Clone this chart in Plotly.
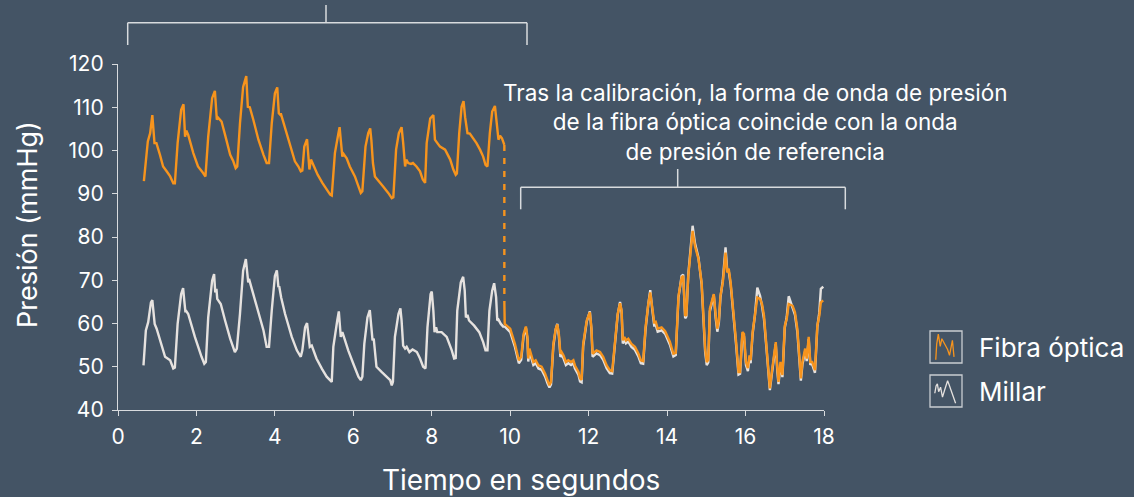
import plotly.graph_objects as go

# ---------------- data ----------------
t_millar_pre = [0.65,0.71,0.77,0.84,0.875,0.91,0.935,0.985,1.11,1.20,
    1.33,1.41,1.45,1.52,1.61,1.66,1.69,1.72,1.73,1.79,
    1.96,2.13,2.20,2.24,2.30,2.40,2.45,2.48,2.51,2.53,
    2.62,2.73,2.86,2.98,3.03,3.11,3.19,3.26,3.29,3.32,
    3.34,3.41,3.58,3.71,3.79,3.85,3.92,4.00,4.05,4.09,
    4.11,4.16,4.26,4.43,4.56,4.66,4.70,4.77,4.82,4.85,
    4.89,4.94,5.06,5.20,5.32,5.45,5.49,5.59,5.63,5.68,
    5.72,5.76,5.87,6.00,6.13,6.19,6.23,6.28,6.36,6.42,
    6.46,6.49,6.52,6.59,6.72,6.85,6.94,6.98,7.01,7.06,
    7.15,7.20,7.23,7.27,7.32,7.36,7.43,7.51,7.62,7.70,
    7.78,7.84,7.89,7.97,8.00,8.04,8.07,8.11,8.14,8.25,
    8.38,8.51,8.57,8.61,8.65,8.74,8.80,8.84,8.87,8.91,
    8.95,9.08,9.21,9.31,9.37,9.42,9.47,9.54,9.59,9.64,
    9.67,9.70,9.76,9.84]
millar_pre = [50.3,58.4,60.3,64.9,65.4,61.8,59.9,58.8,55.3,52.3,
    51.5,49.6,49.8,59.9,66.8,68.2,65.3,62.6,63.0,62.2,
    56.9,52.3,50.7,51.1,61.4,69.9,71.4,67.2,68.0,65.7,
    64.5,60.7,56.5,53.4,54.2,62.2,72.2,74.9,72.2,69.5,
    70.3,68.0,63.0,58.4,54.6,54.6,63.0,71.0,72.3,68.4,
    68.6,66.0,62.2,56.9,53.8,52.3,53.8,59.1,60.1,56.9,
    54.6,54.9,51.9,49.5,47.7,46.5,54.6,60.7,62.8,56.9,
    58.0,56.9,53.8,50.7,47.7,46.9,47.7,55.3,61.4,63.1,
    59.9,56.1,56.5,50.0,48.8,47.8,46.9,45.7,46.5,56.9,
    62.2,63.5,60.7,54.9,54.2,54.6,53.4,54.0,53.4,51.9,
    50.0,49.6,59.1,66.8,67.4,63.0,58.0,59.1,58.0,58.0,
    56.9,53.8,51.9,52.0,63.0,69.5,70.8,67.6,61.4,62.0,
    60.7,59.5,58.0,55.7,53.8,53.8,63.0,67.6,69.3,66.1,
    60.7,60.9,59.9,59.1]

t_fibra_pre = [0.66,0.76,0.82,0.875,0.93,0.98,1.07,1.15,1.24,1.33,
    1.41,1.45,1.52,1.61,1.67,1.71,1.74,1.79,1.92,2.04,
    2.17,2.23,2.30,2.40,2.47,2.52,2.55,2.64,2.73,2.86,
    2.94,3.00,3.04,3.11,3.19,3.27,3.31,3.36,3.45,3.58,
    3.71,3.79,3.85,3.92,4.00,4.06,4.10,4.13,4.15,4.30,
    4.43,4.51,4.60,4.66,4.70,4.75,4.82,4.85,4.88,4.92,
    5.00,5.09,5.21,5.32,5.41,5.45,5.53,5.62,5.65,5.68,
    5.72,5.75,5.83,5.91,6.04,6.13,6.19,6.23,6.31,6.38,
    6.43,6.46,6.50,6.55,6.64,6.76,6.89,6.98,7.02,7.09,
    7.16,7.23,7.27,7.32,7.35,7.40,7.47,7.52,7.61,7.70,
    7.77,7.83,7.87,7.96,8.04,8.08,8.12,8.21,8.34,8.47,
    8.55,8.61,8.64,8.70,8.76,8.81,8.85,8.91,8.97,9.06,
    9.14,9.23,9.31,9.37,9.42,9.48,9.54,9.61,9.66,9.70,
    9.74,9.79,9.85]
fibra_pre = [92.9,102.1,104.0,108.2,101.7,101.7,99.0,96.3,95.2,94.0,
    92.4,92.4,101.7,109.4,110.7,103.2,104.6,103.6,99.4,96.3,
    94.8,94.0,103.2,112.1,113.8,107.1,107.6,106.7,103.6,99.0,
    97.5,95.9,96.3,106.3,114.7,117.2,110.1,110.0,107.1,102.5,
    99.0,97.1,97.1,106.3,113.2,114.6,108.6,108.3,108.6,104.0,
    100.2,97.5,96.3,95.2,95.4,100.9,102.6,98.8,95.6,97.9,
    96.3,94.4,92.5,91.0,89.8,89.6,99.4,104.0,105.4,102.4,
    98.6,99.2,98.2,96.3,94.0,91.7,90.2,90.6,100.9,104.0,
    105.1,102.4,97.1,94.0,92.9,91.7,90.2,89.0,89.2,100.2,
    104.0,105.4,101.8,96.3,97.9,97.1,96.9,97.1,96.3,95.2,
    93.3,92.5,101.7,107.4,108.2,102.5,102.0,100.9,100.2,97.9,
    95.6,94.4,94.7,104.0,110.1,111.4,107.7,104.0,103.9,102.8,
    101.7,100.2,98.6,96.7,96.3,104.0,109.0,110.3,106.2,102.5,
    103.4,102.8,101.3]

t_post = [9.85,9.86,10.00,10.12,10.22,10.28,10.34,10.40,10.44,10.46,
    10.49,10.55,10.59,10.65,10.72,10.80,10.89,10.95,11.00,11.04,
    11.10,11.16,11.20,11.24,11.28,11.31,11.36,11.42,11.48,11.55,
    11.61,11.65,11.74,11.78,11.82,11.86,11.95,12.03,12.07,12.10,
    12.14,12.20,12.29,12.37,12.46,12.54,12.60,12.67,12.74,12.80,
    12.84,12.87,12.91,12.95,13.01,13.09,13.18,13.27,13.33,13.39,
    13.45,13.52,13.57,13.62,13.67,13.71,13.76,13.86,13.95,14.07,
    14.16,14.22,14.29,14.37,14.41,14.46,14.49,14.54,14.60,14.65,
    14.71,14.80,14.88,14.92,14.97,15.01,15.05,15.09,15.15,15.19,
    15.24,15.28,15.32,15.36,15.42,15.45,15.49,15.53,15.57,15.62,
    15.69,15.76,15.82,15.86,15.92,15.96,16.01,16.06,16.10,16.13,
    16.18,16.24,16.30,16.37,16.42,16.47,16.54,16.59,16.62,16.67,
    16.73,16.77,16.81,16.84,16.89,16.94,17.00,17.05,17.10,17.15,
    17.20,17.26,17.32,17.37,17.41,17.45,17.52,17.56,17.61,17.65,
    17.70,17.77,17.81,17.83,17.88,17.92,17.98]
fibra_post = [65.0,59.9,58.8,55.3,51.5,52.3,57.6,59.3,56.9,51.9,
    54.2,52.6,51.1,51.5,50.3,50.0,48.4,46.9,45.7,46.5,
    55.3,58.8,59.8,57.6,53.0,53.4,52.6,51.1,51.5,51.1,
    51.5,50.3,48.8,47.3,47.0,55.3,60.7,62.6,59.1,53.0,
    53.4,53.8,53.4,52.3,50.3,49.2,49.0,56.1,62.2,64.7,
    63.0,56.1,56.9,56.1,56.5,55.3,54.6,53.0,51.5,51.3,
    59.1,64.5,67.2,63.8,60.3,60.4,58.8,59.1,58.2,55.8,
    53.0,53.2,66.4,70.6,71.0,61.8,62.0,71.0,76.4,81.4,
    77.9,74.9,69.5,61.8,54.2,51.1,51.6,63.4,65.7,66.8,
    61.8,58.8,60.7,66.4,69.5,73.3,76.4,71.8,72.7,69.5,
    63.4,55.7,48.8,48.8,58.0,57.6,51.1,49.7,52.6,51.5,
    58.0,61.8,66.0,65.7,64.5,61.8,54.2,47.3,45.0,48.8,
    52.6,55.7,49.7,46.5,51.1,48.1,59.5,61.1,64.5,64.2,
    64.1,62.6,58.8,52.6,47.3,51.1,54.2,51.9,56.9,51.1,
    51.1,49.2,55.7,59.5,61.8,64.9,65.3]
millar_post = [59.5,59.3,58.0,54.6,50.8,51.6,57.0,59.0,56.3,51.2,
    53.5,51.9,50.4,50.8,49.6,49.3,47.7,46.2,45.2,45.9,
    54.8,58.6,59.9,57.1,52.3,52.7,51.9,50.4,50.8,50.4,
    50.8,49.6,48.1,46.6,46.4,54.8,60.4,62.8,58.6,52.3,
    52.7,53.1,52.7,51.6,49.6,48.5,48.4,55.5,62.0,65.0,
    62.5,55.4,56.2,55.4,55.8,54.6,53.9,52.3,50.8,50.7,
    58.6,64.4,67.7,63.3,59.6,59.7,58.1,58.4,57.6,55.1,
    52.4,52.7,66.0,71.0,71.3,61.2,61.6,71.3,77.5,82.6,
    78.6,75.2,69.0,61.0,53.4,50.4,51.0,62.8,65.4,66.6,
    61.1,58.1,60.2,66.0,70.0,74.0,77.6,72.5,72.2,69.0,
    62.6,55.0,48.2,48.4,57.6,57.0,50.4,49.0,52.0,50.8,
    57.6,62.0,68.3,66.4,64.0,61.0,53.5,46.6,44.6,48.3,
    52.0,55.2,49.0,46.0,50.5,47.6,59.0,61.5,66.3,64.8,
    63.6,62.0,58.1,52.0,46.8,50.5,53.6,51.3,56.4,50.6,
    50.5,48.6,55.2,59.2,62.5,68.0,68.5]

# calibration jump (dashed)
t_calib = [9.85, 9.85]
p_calib = [101.3, 65.0]

# legend icon mini-waveforms
icon_fibra_x = [0.18,0.21,0.26,0.32,0.37,0.45,0.55,0.61,0.67,0.70,0.75]
icon_fibra_y = [0.10,0.60,0.90,0.52,0.76,0.60,0.42,0.24,0.66,0.71,0.19]
icon_millar_x = [0.15,0.19,0.23,0.27,0.33,0.39,0.46,0.55,0.60,0.65,0.74,0.80]
icon_millar_y = [0.43,0.66,0.72,0.48,0.62,0.31,0.54,0.82,0.69,0.54,0.23,0.12]

x_ticks = [0, 2, 4, 6, 8, 10, 12, 14, 16, 18]
y_ticks = [40, 50, 60, 70, 80, 90, 100, 110, 120]

labels = {
    "fibra": "Fibra óptica",
    "millar": "Millar",
    "note": "Tras la calibración, la forma de onda de presión<br>de la fibra óptica coincide con la onda<br>de presión de referencia",
    "xtitle": "Tiempo en segundos",
    "ytitle": "Presión (mmHg)",
}

# ---------------- styling ----------------
BG = "#445465"
ORANGE = "#f7941d"
WHITE_LINE = "#e6e2df"
AXIS = "#d8dbde"
TEXT = "#ffffff"
FONT = "Inter, Roboto, Arial, sans-serif"

W, H = 1134, 497
ML, MR, MT, MB = 118, 10, 64, 87
PW = W - ML - MR
PH = H - MT - MB


def px_x(px):
    return (px - ML) / PW


def px_y(py):
    return (H - MB - py) / PH


fig = go.Figure()

fig.add_trace(go.Scatter(x=t_millar_pre, y=millar_pre, mode="lines",
                         line=dict(color=WHITE_LINE, width=2.4), hoverinfo="skip"))
fig.add_trace(go.Scatter(x=t_post, y=millar_post, mode="lines",
                         line=dict(color=WHITE_LINE, width=2.4), hoverinfo="skip"))
fig.add_trace(go.Scatter(x=t_fibra_pre, y=fibra_pre, mode="lines",
                         line=dict(color=ORANGE, width=2.4), hoverinfo="skip"))
fig.add_trace(go.Scatter(x=t_calib, y=p_calib, mode="lines",
                         line=dict(color=ORANGE, width=2.4, dash="6px,7px"), hoverinfo="skip"))
fig.add_trace(go.Scatter(x=t_post, y=fibra_post, mode="lines",
                         line=dict(color=ORANGE, width=2.4), hoverinfo="skip"))

# legend icons in inset axes
fig.add_trace(go.Scatter(x=icon_fibra_x, y=icon_fibra_y, mode="lines", xaxis="x2", yaxis="y2",
                         line=dict(color=ORANGE, width=1.3), hoverinfo="skip"))
fig.add_trace(go.Scatter(x=icon_millar_x, y=icon_millar_y, mode="lines", xaxis="x3", yaxis="y3",
                         line=dict(color=WHITE_LINE, width=1.3), hoverinfo="skip"))

icon_x0, icon_x1 = 930, 962
hidden = dict(visible=False, range=[0, 1], fixedrange=True)

fig.update_layout(
    width=W, height=H, autosize=False,
    margin=dict(l=ML, r=MR, t=MT, b=MB, autoexpand=False),
    paper_bgcolor=BG, plot_bgcolor=BG,
    showlegend=False,
    font=dict(family=FONT, color=TEXT),
    xaxis=dict(domain=[0, px_x(824)], range=[0, 18], tickvals=x_ticks,
               showline=True, linecolor=AXIS, linewidth=1.3,
               ticks="outside", ticklen=5, tickcolor=AXIS, tickwidth=1.3,
               showgrid=False, zeroline=False, automargin=False,
               tickfont=dict(size=21, color=TEXT), ticklabelstandoff=3),
    yaxis=dict(domain=[0, 1], range=[40, 120], tickvals=y_ticks,
               showline=True, linecolor=AXIS, linewidth=1.3,
               ticks="outside", ticklen=5, tickcolor=AXIS, tickwidth=1.3,
               showgrid=False, zeroline=False, automargin=False,
               tickfont=dict(size=21, color=TEXT), ticklabelstandoff=4),
    xaxis2=dict(domain=[px_x(icon_x0), px_x(icon_x1)], anchor="y2", **hidden),
    yaxis2=dict(domain=[px_y(363), px_y(331)], anchor="x2", **hidden),
    xaxis3=dict(domain=[px_x(icon_x0), px_x(icon_x1)], anchor="y3", **hidden),
    yaxis3=dict(domain=[px_y(407), px_y(375)], anchor="x3", **hidden),
)

# icon boxes
for xr, yr in (("x2 domain", "y2 domain"), ("x3 domain", "y3 domain")):
    fig.add_shape(type="rect", xref=xr, yref=yr, x0=0, x1=1, y0=0, y1=1,
                  line=dict(color="#c9cdd1", width=1.3))

# brackets
def bracket(x0, x1, y, ydrop, xstem, ystem):
    seg = dict(type="line", xref="paper", yref="paper", line=dict(color=AXIS, width=1.5))
    fig.add_shape(x0=px_x(x0), x1=px_x(x1), y0=px_y(y), y1=px_y(y), **seg)
    fig.add_shape(x0=px_x(x0), x1=px_x(x0), y0=px_y(y), y1=px_y(ydrop), **seg)
    fig.add_shape(x0=px_x(x1), x1=px_x(x1), y0=px_y(y), y1=px_y(ydrop), **seg)
    fig.add_shape(x0=px_x(xstem), x1=px_x(xstem), y0=px_y(y), y1=px_y(ystem), **seg)

bracket(127.7, 527, 22.7, 45, 326, 5)
bracket(520.7, 845.3, 187.3, 209.3, 677.7, 169)

# texts
fig.add_annotation(x=px_x(755), y=px_y(122), xref="paper", yref="paper",
                   text=labels["note"], showarrow=False, align="center",
                   font=dict(size=22.5, color=TEXT), xanchor="center", yanchor="middle")
fig.add_annotation(x=px_x(977), y=px_y(347), xref="paper", yref="paper",
                   text=labels["fibra"], showarrow=False, xanchor="left", yanchor="middle",
                   font=dict(size=26, color=TEXT))
fig.add_annotation(x=px_x(977), y=px_y(391), xref="paper", yref="paper",
                   text=labels["millar"], showarrow=False, xanchor="left", yanchor="middle",
                   font=dict(size=26, color=TEXT))
fig.add_annotation(x=px_x(521), y=px_y(480), xref="paper", yref="paper",
                   text=labels["xtitle"], showarrow=False, xanchor="center", yanchor="middle",
                   font=dict(size=28, color=TEXT))
fig.add_annotation(x=px_x(27), y=px_y(225), xref="paper", yref="paper",
                   text=labels["ytitle"], showarrow=False, textangle=-90,
                   xanchor="center", yanchor="middle",
                   font=dict(size=27, color=TEXT))

fig.write_html("out.html", config={"responsive": False})
